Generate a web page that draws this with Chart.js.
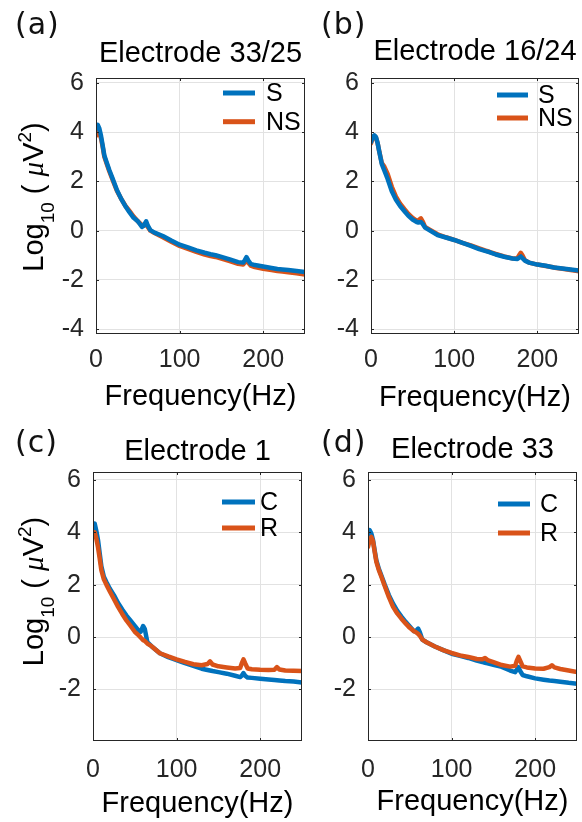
<!DOCTYPE html>
<html>
<head>
<meta charset="utf-8">
<script src="https://cdn.jsdelivr.net/npm/chart.js@4.4.1/dist/chart.umd.min.js"></script>
<style>
  html, body { margin: 0; padding: 0; background: #fff; }
  #fig { position: relative; width: 582px; height: 822px; overflow: hidden; }
  #fig canvas { position: absolute; }
  .tag { position: absolute; font-family: "DejaVu Sans", sans-serif; font-size: 30px; line-height: 1; color: #111; letter-spacing: 1px; }
</style>
</head>
<body>
<div id="fig">
  <canvas id="cA" width="312" height="382" style="left:0;top:38px"></canvas>
  <canvas id="cB" width="292" height="384" style="left:290px;top:36px"></canvas>
  <canvas id="cC" width="310" height="394" style="left:0;top:428px"></canvas>
  <canvas id="cD" width="292" height="394" style="left:290px;top:428px"></canvas>
  <div class="tag" style="left:15px;top:9px">(a)</div>
  <div class="tag" style="left:321px;top:9px">(b)</div>
  <div class="tag" style="left:15px;top:427px">(c)</div>
  <div class="tag" style="left:321px;top:427px">(d)</div>
</div>
<script>
// frequency grid (Hz) shared by every spectrum
const freqHz = [0, 2, 4, 6, 8, 10, 13, 16, 20, 25, 30, 35, 40, 45, 50, 55, 57, 60, 62, 65,
  70, 80, 90, 100, 110, 120, 130, 137, 140, 143, 150, 160, 170, 176, 178, 180, 182, 185,
  190, 200, 210, 217, 220, 223, 230, 240, 250];

// log10 power
const e3325S = [4.15, 4.3, 4.15, 3.85, 3.45, 3.05, 2.75, 2.45, 2.1, 1.65, 1.3, 1.0, 0.75, 0.52, 0.38, 0.15, 0.2, 0.38, 0.2, 0.02,
  -0.08, -0.22, -0.4, -0.57, -0.68, -0.8, -0.9, -0.96, -0.98, -1.0, -1.07, -1.17, -1.28, -1.3, -1.2, -1.08, -1.2, -1.35,
  -1.4, -1.46, -1.52, -1.56, -1.57, -1.58, -1.6, -1.64, -1.68];
const e3325NS = [3.85, 4.0, 3.95, 3.75, 3.4, 3.0, 2.7, 2.4, 2.05, 1.62, 1.3, 1.02, 0.8, 0.57, 0.38, 0.22, 0.2, 0.25, 0.15, 0.0,
  -0.1, -0.27, -0.45, -0.62, -0.74, -0.86, -0.97, -1.03, -1.05, -1.07, -1.14, -1.24, -1.35, -1.38, -1.3, -1.18, -1.3, -1.42,
  -1.48, -1.55, -1.6, -1.64, -1.65, -1.66, -1.69, -1.73, -1.78];
const e1624S = [3.6, 3.8, 3.87, 3.8, 3.55, 3.2, 2.7, 2.45, 2.1, 1.6, 1.25, 1.0, 0.8, 0.6, 0.45, 0.35, 0.33, 0.35, 0.28, 0.12,
  0.02, -0.18, -0.28, -0.38, -0.5, -0.62, -0.75, -0.82, -0.85, -0.88, -0.97, -1.06, -1.13, -1.15, -1.1, -1.05, -1.12, -1.22,
  -1.3, -1.38, -1.43, -1.48, -1.5, -1.51, -1.54, -1.58, -1.62];
const e1624NS = [3.55, 3.75, 3.85, 3.78, 3.55, 3.2, 2.75, 2.6, 2.3, 1.78, 1.38, 1.1, 0.88, 0.68, 0.52, 0.4, 0.42, 0.5, 0.38, 0.15,
  0.05, -0.15, -0.27, -0.38, -0.5, -0.6, -0.72, -0.8, -0.83, -0.87, -0.95, -1.05, -1.13, -1.12, -1.0, -0.9, -1.0, -1.2,
  -1.3, -1.38, -1.44, -1.48, -1.5, -1.52, -1.55, -1.6, -1.65];
const e1C = [4.15, 4.33, 4.05, 3.7, 3.2, 2.7, 2.3, 2.1, 1.85, 1.6, 1.3, 1.05, 0.82, 0.62, 0.42, 0.22, 0.2, 0.42, 0.3, -0.2,
  -0.35, -0.62, -0.77, -0.88, -1.0, -1.1, -1.21, -1.26, -1.28, -1.3, -1.34, -1.4, -1.48, -1.53, -1.47, -1.38, -1.48, -1.55,
  -1.56, -1.59, -1.62, -1.64, -1.65, -1.66, -1.68, -1.7, -1.74];
const e1R = [3.85, 4.0, 3.75, 3.42, 3.0, 2.55, 2.2, 2.0, 1.75, 1.45, 1.15, 0.88, 0.63, 0.42, 0.2, 0.05, -0.02, -0.12, -0.15, -0.25,
  -0.35, -0.62, -0.74, -0.85, -0.95, -1.04, -1.08, -1.03, -0.93, -1.05, -1.12, -1.16, -1.2, -1.18, -1.0, -0.85, -1.0, -1.2,
  -1.23, -1.25, -1.26, -1.25, -1.15, -1.24, -1.28, -1.29, -1.3];
const e33C = [3.9, 4.08, 3.95, 3.7, 3.3, 2.93, 2.6, 2.35, 2.0, 1.6, 1.27, 1.0, 0.78, 0.58, 0.4, 0.22, 0.22, 0.32, 0.18, -0.1,
  -0.2, -0.36, -0.5, -0.64, -0.72, -0.8, -0.9, -0.96, -0.98, -1.0, -1.06, -1.14, -1.28, -1.34, -1.25, -1.15, -1.3, -1.45,
  -1.5, -1.58, -1.63, -1.66, -1.67, -1.68, -1.71, -1.75, -1.78];
const e33R = [3.44, 3.7, 3.82, 3.65, 3.25, 2.87, 2.55, 2.3, 1.95, 1.52, 1.15, 0.9, 0.7, 0.52, 0.35, 0.22, 0.19, 0.12, 0.05, -0.1,
  -0.2, -0.36, -0.5, -0.61, -0.7, -0.76, -0.84, -0.85, -0.8, -0.88, -0.96, -1.07, -1.13, -1.1, -0.9, -0.76, -0.9, -1.12,
  -1.16, -1.2, -1.21, -1.15, -1.08, -1.16, -1.22, -1.28, -1.34];

const xTicks = [0, 100, 200];
const yTicksTop = [-4, -2, 0, 2, 4, 6];
const yTicksBottom = [-2, 0, 2, 4, 6];
const titles = ['Electrode 33/25', 'Electrode 16/24', 'Electrode 1', 'Electrode 33'];
const namesTop = ['S', 'NS'];
const namesBottom = ['C', 'R'];

const BLUE = '#0072BD';
const ORANGE = '#D95319';
const INK = '#262626';
const SANS = '"Liberation Sans", Arial, Helvetica, sans-serif';

// draws the closed box, inward ticks, the legend and the Log10 label
const matlabAxes = {
  id: 'matlabAxes',
  afterDraw(chart, args, opts) {
    const { ctx, chartArea: a, scales } = chart;
    ctx.save();
    ctx.strokeStyle = INK;
    ctx.lineWidth = 1;
    ctx.beginPath();
    scales.x.ticks.forEach(t => {
      const px = Math.round(scales.x.getPixelForValue(t.value)) + 0.5;
      ctx.moveTo(px, a.bottom); ctx.lineTo(px, a.bottom - 3);
      ctx.moveTo(px, a.top); ctx.lineTo(px, a.top + 3);
    });
    scales.y.ticks.forEach(t => {
      const py = Math.round(scales.y.getPixelForValue(t.value)) + 0.5;
      ctx.moveTo(a.left, py); ctx.lineTo(a.left + 3, py);
      ctx.moveTo(a.right, py); ctx.lineTo(a.right - 3, py);
    });
    ctx.stroke();
    ctx.strokeRect(Math.round(a.left) + 0.5, Math.round(a.top) + 0.5, Math.round(a.width) - 1, Math.round(a.height) - 1);

    // legend, no frame
    const lg = opts.legend;
    ctx.font = '25px ' + SANS;
    ctx.textBaseline = 'middle';
    ctx.textAlign = 'left';
    ctx.lineWidth = 5;
    ctx.lineCap = 'butt';
    lg.names.forEach((name, i) => {
      const y = a.top + lg.rows[i];
      ctx.strokeStyle = lg.colors[i];
      ctx.beginPath();
      ctx.moveTo(a.right - lg.x0, y);
      ctx.lineTo(a.right - lg.x1, y);
      ctx.stroke();
      ctx.fillStyle = '#000';
      ctx.fillText(name, a.right - lg.tx, y + 1);
    });

    // y axis label with sub/superscript
    if (opts.yLabel) {
      const [cx, cy] = opts.yLabel;
      const parts = [
        { t: 'Log', f: '29px ' + SANS, dy: 0 },
        { t: '10', f: '19px ' + SANS, dy: 11 },
        { t: ' ( ', f: '29px ' + SANS, dy: 0 },
        { t: '\u03BC', f: 'italic 29px "Liberation Serif", serif', dy: 0 },
        { t: 'V', f: '29px ' + SANS, dy: 0 },
        { t: '2', f: '19px ' + SANS, dy: -12 },
        { t: ')', f: '29px ' + SANS, dy: 0 }
      ];
      let total = 0;
      parts.forEach(p => { ctx.font = p.f; p.w = ctx.measureText(p.t).width; total += p.w; });
      ctx.translate(cx, cy);
      ctx.rotate(-Math.PI / 2);
      ctx.textBaseline = 'alphabetic';
      ctx.fillStyle = '#000';
      let x = -total / 2;
      parts.forEach(p => { ctx.font = p.f; ctx.fillText(p.t, x, 10 + p.dy); x += p.w; });
    }
    ctx.restore();
  }
};

function makePanel(p) {
  const toXY = vals => vals.map((v, i) => ({ x: freqHz[i], y: vals[i] }));
  return new Chart(document.getElementById(p.canvas), {
    type: 'line',
    data: {
      datasets: [
        { label: p.names[0], data: toXY(p.blue), borderColor: BLUE, order: p.blueOnTop ? 0 : 1 },
        { label: p.names[1], data: toXY(p.orange), borderColor: ORANGE, order: p.blueOnTop ? 1 : 0 }
      ]
    },
    options: {
      responsive: false,
      animation: false,
      layout: { padding: { left: 0, right: p.padRight, top: 0, bottom: 0 } },
      elements: {
        point: { radius: 0 },
        line: { borderWidth: 4.5, tension: 0, borderJoinStyle: 'round', borderCapStyle: 'round' }
      },
      scales: {
        x: {
          type: 'linear', min: 0, max: 250,
          afterBuildTicks: s => { s.ticks = xTicks.map(v => ({ value: v })); },
          afterFit: s => { s.height = p.xHeight; },
          grid: { color: '#e2e2e2', drawTicks: false },
          border: { display: false },
          ticks: { padding: p.tickPad, color: INK, maxRotation: 0, autoSkip: false, font: { size: 25, family: SANS } },
          title: { display: true, text: 'Frequency(Hz)', color: '#000', padding: { top: 0, bottom: p.xTitlePad }, font: { size: 29, family: SANS, lineHeight: 1.1 } }
        },
        y: {
          type: 'linear', min: p.yMin, max: p.yMax,
          afterBuildTicks: s => { s.ticks = p.yTicks.map(v => ({ value: v })); },
          afterFit: s => { s.width = p.yWidth; },
          grid: { color: '#e2e2e2', drawTicks: false },
          border: { display: false },
          ticks: { padding: 12, color: INK, autoSkip: false, font: { size: 25, family: SANS } }
        }
      },
      plugins: {
        legend: { display: false },
        tooltip: { enabled: false },
        title: {
          display: true, text: p.title, fullSize: false, color: '#000',
          padding: p.titlePad, font: { size: 29, family: SANS, weight: 'normal', lineHeight: 1.1 }
        },
        matlabAxes: {
          legend: { names: p.names, colors: [BLUE, ORANGE], rows: p.legRows, x0: p.legX0, x1: p.legX1, tx: p.legTx },
          yLabel: p.yLabelAt
        }
      }
    },
    plugins: [matlabAxes]
  });
}

makePanel({ canvas: 'cA', title: titles[0], names: namesTop, blue: e3325S, orange: e3325NS, blueOnTop: true,
  yMin: -4.2, yMax: 6.2, yTicks: yTicksTop, yWidth: 96, padRight: 7, titlePad: { top: 0, bottom: 8.1 },
  tickPad: 11.5, xHeight: 86, xTitlePad: 7.5, yLabelAt: [32.5, 159],
  legRows: [15, 43.7], legX0: 82, legX1: 50, legTx: 39 });

makePanel({ canvas: 'cB', title: titles[1], names: namesTop, blue: e1624S, orange: e1624NS, blueOnTop: true,
  yMin: -4.2, yMax: 6.2, yTicks: yTicksTop, yWidth: 81, padRight: 3, titlePad: { top: 0, bottom: 10.1 },
  tickPad: 11, xHeight: 86, xTitlePad: 6, yLabelAt: null,
  legRows: [17, 40], legX0: 82, legX1: 51, legTx: 41 });

makePanel({ canvas: 'cC', title: titles[2], names: namesBottom, blue: e1C, orange: e1R, blueOnTop: false,
  yMin: -3.97, yMax: 6.3, yTicks: yTicksBottom, yWidth: 93, padRight: 8, titlePad: { top: 8, bottom: 4.1 },
  tickPad: 14.5, xHeight: 81, xTitlePad: 2.5, yLabelAt: [32.5, 163.5],
  legRows: [30, 56], legX0: 80, legX1: 47, legTx: 42 });

makePanel({ canvas: 'cD', title: titles[3], names: namesBottom, blue: e33C, orange: e33R, blueOnTop: false,
  yMin: -3.97, yMax: 6.3, yTicks: yTicksBottom, yWidth: 78, padRight: 5, titlePad: { top: 6, bottom: 6.1 },
  tickPad: 14.5, xHeight: 81, xTitlePad: 4.5, yLabelAt: null,
  legRows: [32, 61], legX0: 79, legX1: 47, legTx: 37 });
</script>
</body>
</html>
